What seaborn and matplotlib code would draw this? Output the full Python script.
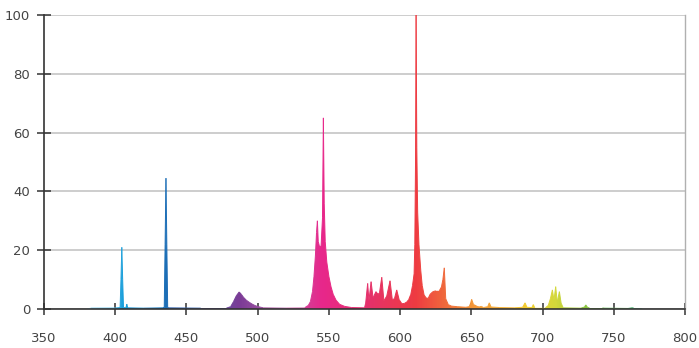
"""Emission spectrum of a tri-phosphor lamp, filled with a wavelength colour gradient."""

import matplotlib
matplotlib.use("Agg")
import matplotlib.pyplot as plt
import numpy as np
import pandas as pd
import seaborn as sns
from matplotlib.collections import LineCollection
from matplotlib.colors import LinearSegmentedColormap, Normalize
from matplotlib.patches import Polygon

# Spectrum (wavelength nm, relative intensity)
wavelength = [
    380, 383, 400, 403.4, 404, 404.6, 405.2, 405.8, 407.5, 408.1, 408.7, 420,
    433.5, 434.4, 435, 435.6, 436.2, 436.8, 437.5, 460, 478, 481, 483, 485,
    487, 488.5, 490, 492, 494, 496, 498, 500.5, 504, 520, 533, 534, 535.5,
    537, 538.5, 539.5, 540.5, 541.3, 541.9, 542.5, 543.5, 544.5, 545.5,
    546.1, 546.7, 547.4, 548.5, 550, 551.5, 553, 555, 557.5, 561, 566, 575,
    575.8, 577.2, 578.1, 579.6, 581, 583, 584.5, 585.5, 587.1, 588.6, 590.6,
    592.9, 594.5, 596, 597.6, 599.3, 601.2, 603, 604.7, 606, 607.5, 608.7,
    609.8, 610.3, 610.8, 611.2, 611.7, 612.3, 613.2, 614.5, 615.5, 616.8,
    618.2, 619.7, 621, 623, 625, 627.5, 629, 630, 631, 632, 633.8, 636, 640,
    646, 648.5, 649.5, 650.2, 651.5, 652.5, 654, 655.5, 657, 658.5, 661.5,
    662.6, 663.8, 670, 680, 686, 687.7, 689, 692.5, 693.5, 694.5, 702, 704,
    705.5, 706.9, 708, 709.2, 710.3, 711.8, 713, 714.5, 727, 729.5, 730.3,
    731.5, 733, 742, 742.6, 743.2, 760, 763.3, 764, 770,
]
intensity = [
    0.0, 0.3, 0.35, 0.5, 10, 21, 10, 0.5, 0.4, 1.7, 0.4, 0.3,
    0.4, 0.6, 22, 44.5, 22, 0.6, 0.4, 0.3, 0.3, 0.8, 2.5, 4.5,
    5.8, 5, 4, 3, 2.3, 1.7, 1.2, 0.8, 0.4, 0.3, 0.35, 0.8, 1.2,
    2.5, 6, 11, 18, 26, 30, 23, 21, 21.5, 31,
    65, 36, 23, 16, 11, 7.5, 5, 3, 1.6, 0.9, 0.5, 0.4,
    2, 8.7, 2.8, 9.3, 3.8, 5.9, 5, 5.5, 10.8, 2.8, 4.4,
    9.6, 3.2, 3.5, 6.5, 3.2, 1.8, 1.9, 2.4, 3.2, 5, 8,
    12, 22, 50, 100, 55, 33, 22, 13, 8, 4.8,
    3.8, 3.6, 5, 5.9, 6.2, 6.2, 7.5, 10, 14, 3.5, 1.5, 1.0, 0.8,
    0.6, 0.8, 2, 3.3, 1.5, 1.3, 0.9, 0.7, 0.9, 0.5, 0.8,
    2.1, 0.7, 0.5, 0.4, 0.6, 2.1, 0.6, 0.5, 1.5, 0.4, 0.4, 1.2,
    3.5, 6.5, 3, 7.6, 2.4, 5.9, 2, 0.4, 0.3, 0.7, 1.4,
    0.6, 0.3, 0.3, 0.4, 0.3, 0.2, 0.5, 0.2, 0.0,
]

# Colour stops along the wavelength axis
color_nm = [350, 380, 405, 436, 465, 487, 515, 545, 578, 611, 632, 650, 675,
            690, 710, 730, 770, 800]
color_hex = ["#9ad8f0", "#9ad8f0", "#1a9fdb", "#1d6db5", "#5b5aa6", "#7b3b96",
             "#b463a8", "#e8278b", "#e5316b", "#ee3b42", "#f06a3c", "#f39437",
             "#f5b43a", "#f3cf30", "#d3d83b", "#8cc540", "#5ebe91", "#5ebe91"]

x_ticks = [350, 400, 450, 500, 550, 600, 650, 700, 750, 800]
y_ticks = [0, 20, 40, 60, 80, 100]

df = pd.DataFrame({"nm": wavelength, "value": intensity})

sns.set_theme(style="white")
plt.rcParams["font.family"] = ["DejaVu Sans"]

fig = plt.figure(figsize=(6.99, 3.48), dpi=100)
ax = fig.add_axes([0.063, 0.112, 0.917, 0.845])

sns.lineplot(data=df, x="nm", y="value", ax=ax, linewidth=0, sort=False)

# Gradient image clipped to the area under the spectrum
norm = Normalize(350, 800)
stops = [(norm(w), c) for w, c in zip(color_nm, color_hex)]
cmap = LinearSegmentedColormap.from_list("spectrum", stops)
grad = np.linspace(350, 800, 1400)[np.newaxis, :]
im = ax.imshow(grad, extent=[350, 800, 0, 100], aspect="auto", cmap=cmap,
               norm=norm, origin="lower", zorder=2, interpolation="bilinear")
verts = np.column_stack([np.r_[df["nm"], df["nm"][::-1]],
                         np.r_[df["value"], np.zeros(len(df))]])
patch = Polygon(verts, closed=True, transform=ax.transData,
                facecolor="none", edgecolor="none")
ax.add_patch(patch)
im.set_clip_path(patch)

# thin coloured outline so the narrow lines stay solid
pts = df[["nm", "value"]].to_numpy()
segs = np.stack([pts[:-1], pts[1:]], axis=1)
mid = (pts[:-1, 0] + pts[1:, 0]) / 2
outline = LineCollection(segs, colors=cmap(norm(mid)), linewidths=0.7,
                         zorder=2.5)
ax.add_collection(outline)

ax.set_xlim(350, 800)
ax.set_ylim(0, 100)
ax.set_xticks(x_ticks)
ax.set_yticks(y_ticks)
ax.set_xlabel("")
ax.set_ylabel("")

ax.set_axisbelow(True)
ax.yaxis.grid(True, color="#c0c0c0", linewidth=1.1)
ax.xaxis.grid(False)

for side in ["left", "bottom"]:
    ax.spines[side].set_color("#333333")
    ax.spines[side].set_linewidth(1.2)
ax.spines["right"].set_color("#b0b0b0")
ax.spines["right"].set_linewidth(1.0)
ax.spines["top"].set_visible(False)

ax.tick_params(axis="x", direction="inout", length=9, width=1.1,
               color="#333333", labelsize=9.5, labelcolor="#444444", pad=12)
ax.tick_params(axis="y", direction="inout", length=10, width=1.1,
               color="#333333", labelsize=9.5, labelcolor="#444444", pad=5)
ax.tick_params(bottom=True, left=True)

fig.savefig("out.png", dpi=100)
